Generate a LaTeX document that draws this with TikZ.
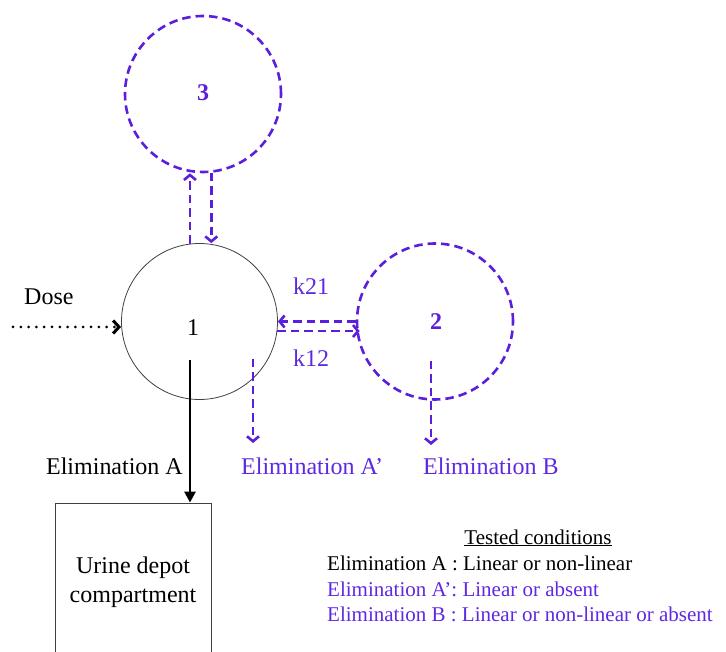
\documentclass[tikz,border=0pt]{standalone}
\usepackage{fontspec}
\setmainfont{Liberation Serif}
\newfontfamily\tms{Liberation Serif}
\usetikzlibrary{arrows.meta}
\definecolor{pur}{RGB}{90,30,220}
\definecolor{purtxt}{RGB}{95,40,225}
\begin{document}
\begin{tikzpicture}[x=1pt,y=-1pt,
  comp/.style={circle, minimum size=156pt, inner sep=0pt},
  pdash/.style={draw=pur, line width=2.6pt, dash pattern=on 8.5pt off 5pt},
  parrow/.style={draw=pur, line width=2.6pt, dash pattern=on 8.5pt off 5pt, -{Straight Barb[length=5pt,width=12pt]}},
  lbl/.style={font=\tms\fontsize{24}{29}\selectfont, inner sep=0pt},
  leg/.style={font=\tms\fontsize{21}{25}\selectfont, inner sep=0pt, anchor=base west},
]
\clip (0,0) rectangle (726,652);
% compartments
\node[comp, draw=black!75, line width=0.8pt] (c1) at (199.5,321.5) {};
\node[comp, pdash] (c3) at (203,94) {};
\node[comp, pdash] (c2) at (435,321.5) {};
\node[lbl, anchor=base] (n1) at (193,336) {1};
\node[lbl, anchor=base, text=pur, font=\tms\fontsize{24}{29}\selectfont\bfseries] (n3) at (203,101) {3};
\node[lbl, anchor=base, text=pur, font=\tms\fontsize{24}{29}\selectfont\bfseries] (n2) at (436,330) {2};
% box
\node[draw=black!75, line width=0.8pt, minimum width=156pt, minimum height=159pt, align=center,
      font=\tms\fontsize{24}{29}\selectfont, inner sep=0pt] (box) at (133,582.5) {Urine depot\\compartment};
% labels
\node[lbl, anchor=base west] (dose) at (24,305) {Dose};
\node[lbl, anchor=base west, text=purtxt] (k21) at (293,295) {k21};
\node[lbl, anchor=base west, text=purtxt] (k12) at (293,367) {k12};
\node[lbl, anchor=base east] (elA) at (183,474) {Elimination A};
\node[lbl, anchor=base west, text=purtxt] (elAp) at (241,474) {Elimination A’};
\node[lbl, anchor=base west, text=purtxt] (elB) at (423,474) {Elimination B};
% legend
\node[leg, anchor=base] (tc) at (538,544) {\underline{Tested conditions}};
\node[leg] (l1) at (327,570) {Elimination A : Linear or non-linear};
\node[leg, text=purtxt] (l2) at (327,596) {Elimination A’: Linear or absent};
\node[leg, text=purtxt] (l3) at (327,621) {Elimination B : Linear or non-linear or absent};
% coordinates
\coordinate (dose0) at (13,327);
\coordinate (sA) at (190,360);
\coordinate (sAp) at (253,359);
\coordinate (eAp) at (253,443);
\coordinate (sB) at (431,361);
\coordinate (eB) at (431,445);
% connectors
\draw[line width=3pt, dash pattern=on 0pt off 7.8pt, line cap=round,
      -{Straight Barb[length=6pt,width=13pt,line width=3pt]}] (dose0) -- (dose0 -| c1.west);
\draw[line width=2.6pt, -{Triangle[length=11pt,width=11pt]}] (sA) -- (sA |- box.north);
\draw[parrow] (c1.97) -- (c1.97 |- c3.south);
\draw[parrow] (c3.276) -- (c3.276 |- c1.north);
\draw[parrow] (c2.west) -- (c1.east);
\draw[parrow] (c1.-7) -- ([xshift=4pt]c1.-7 -| c2.west);
\draw[parrow] (sAp) -- (eAp);
\draw[parrow] (sB) -- (eB);
\end{tikzpicture}
\end{document}
